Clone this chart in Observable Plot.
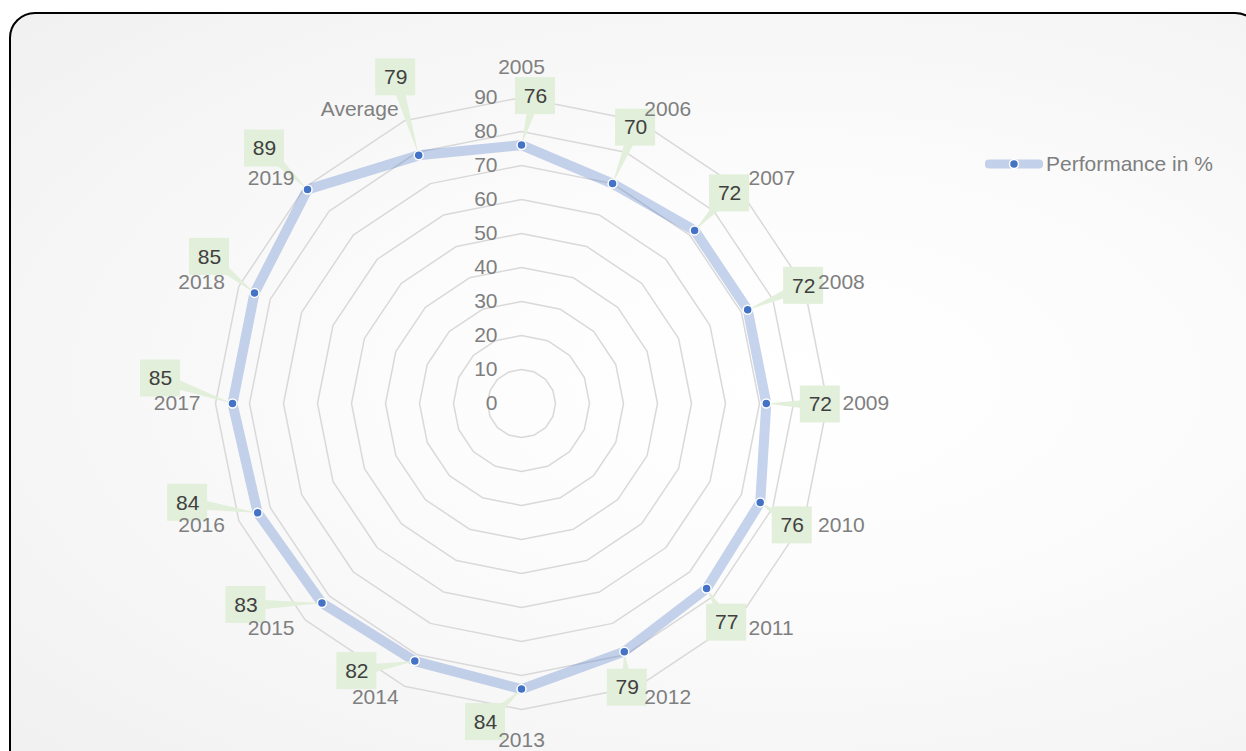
<!DOCTYPE html>
<html>
<head>
<meta charset="utf-8">
<script src="https://cdn.jsdelivr.net/npm/d3@7"></script>
<script src="https://cdn.jsdelivr.net/npm/@observablehq/plot@0.6"></script>
<style>
  html, body { margin: 0; padding: 0; background: #ffffff; }
  #wrap { position: relative; width: 1246px; height: 751px; overflow: hidden; font-family: "Liberation Sans", Arial, sans-serif; }
  #frame { position: absolute; left: 9px; top: 12px; width: 1252px; height: 770px; border: 2px solid #000; border-radius: 26px;
    background: radial-gradient(ellipse at 62% 48%, #ffffff 0%, #fcfcfc 35%, #f0f0f0 100%); box-sizing: border-box; }
  #chart { position: absolute; left: 0; top: 0; }
  #legend { position: absolute; left: 985px; top: 152px; display: flex; align-items: center; font-size: 21px; color: #7f7f7f; }
  #legend svg { margin-right: 3px; }
</style>
</head>
<body>
<div id="wrap">
  <div id="frame"></div>
  <div id="chart"></div>
  <div id="legend">
    <svg width="58" height="24"><line x1="4" y1="12" x2="54" y2="12" stroke="#4472c4" stroke-opacity="0.3" stroke-width="9" stroke-linecap="round"/><circle cx="29" cy="12" r="4.5" fill="#4472c4" stroke="#fff" stroke-width="1.5"/></svg>
    <span>Performance in %</span>
  </div>
</div>
<script>
const categories = ["2005","2006","2007","2008","2009","2010","2011","2012","2013","2014","2015","2016","2017","2018","2019","Average"];
const values = [76,70,72,72,72,76,77,79,84,82,83,84,85,85,89,79];
const ticks = [0,10,20,30,40,50,60,70,80,90];
const seriesName = "Performance in %";
// data-label box offsets from each point (pixels), as placed in the original
const labelDx = [14,23,35,56,54,32,20,3,-36,-58,-76,-70,-72,-45,-43,-23];
const labelDy = [-49,-56,-37,-24,1,23,34,36,33,10,2,-10,-25,-36,-41,-78];

const W = 1246, H = 751, CX = 521, CY = 403, K = 3.4; // px per unit
const maxV = 90;
const n = categories.length;
const ang = i => i * 2 * Math.PI / n;

const rings = [];
for (const v of ticks.filter(t => t > 0)) {
  for (let i = 0; i <= n; i++) rings.push({v, x: v * Math.sin(ang(i % n)), y: v * Math.cos(ang(i % n))});
}
const pts = categories.map((c, i) => ({c, v: values[i], i, x: values[i] * Math.sin(ang(i)), y: values[i] * Math.cos(ang(i))}));
const series = [...pts, pts[0]];

const BW = 40, BH = 37;
const boxes = pts.map((p, i) => {
  const bx = p.x + labelDx[i] / K, by = p.y - labelDy[i] / K;
  return {...p, bx, by, x1: bx - BW / 2 / K, x2: bx + BW / 2 / K, y1: by - BH / 2 / K, y2: by + BH / 2 / K};
});
const wedges = [];
boxes.forEach((b, i) => {
  const dxp = b.bx - b.x, dyp = b.by - b.y;
  const len = Math.hypot(dxp, dyp) || 1;
  const nx = -dyp / len, ny = dxp / len, hw = 6 / K;
  wedges.push({id: i, x: b.x, y: b.y});
  wedges.push({id: i, x: b.bx + nx * hw, y: b.by + ny * hw});
  wedges.push({id: i, x: b.bx - nx * hw, y: b.by - ny * hw});
});

const catLabels = categories.map((c, i) => {
  const s = Math.sin(ang(i)), co = Math.cos(ang(i));
  let ox = 15 * s, oy = -12 * co;
  let anchor = s > 0.01 ? "start" : s < -0.01 ? "end" : "middle";
  if (anchor === "middle") oy = co > 0 ? -30 : 31;
  return {c, anchor, x: maxV * s + ox / K, y: maxV * co - oy / K};
});

const font = "Liberation Sans, Arial, sans-serif";
const plot = Plot.plot({
  width: W, height: H,
  margin: 0,
  style: {background: "transparent", fontFamily: font, overflow: "visible"},
  x: {domain: [-CX / K, (W - CX) / K], range: [0, W], axis: null},
  y: {domain: [-(H - CY) / K, CY / K], range: [H, 0], axis: null},
  marks: [
    Plot.line(rings, {x: "x", y: "y", z: "v", stroke: "#d9d9d9", strokeWidth: 1.5}),
    Plot.text(ticks, {x: 0, y: d => d, text: d => String(d), textAnchor: "end", dx: -24, fill: "#7f7f7f", fontSize: 21}),
    Plot.line(series, {x: "x", y: "y", stroke: "#4472c4", strokeOpacity: 0.3, strokeWidth: 10, strokeLinejoin: "round"}),
    Plot.line(wedges, {x: "x", y: "y", z: "id", fill: "#e2efda", stroke: "none"}),
    Plot.rect(boxes, {x1: "x1", x2: "x2", y1: "y1", y2: "y2", fill: "#e2efda"}),
    Plot.text(boxes, {x: "bx", y: "by", text: d => String(d.v), fill: "#404040", fontSize: 21}),
    Plot.dot(pts, {x: "x", y: "y", r: 4.5, fill: "#4472c4", stroke: "#ffffff", strokeWidth: 1.5}),
    Plot.text(catLabels.filter(d => d.anchor === "start"), {x: "x", y: "y", text: "c", textAnchor: "start", fill: "#7f7f7f", fontSize: 21}),
    Plot.text(catLabels.filter(d => d.anchor === "end"), {x: "x", y: "y", text: "c", textAnchor: "end", fill: "#7f7f7f", fontSize: 21}),
    Plot.text(catLabels.filter(d => d.anchor === "middle"), {x: "x", y: "y", text: "c", textAnchor: "middle", fill: "#7f7f7f", fontSize: 21})
  ]
});
document.getElementById("chart").appendChild(plot);
</script>
</body>
</html>
